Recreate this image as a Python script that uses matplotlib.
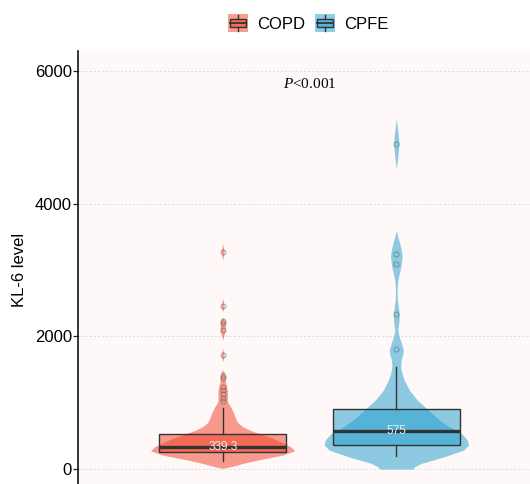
import numpy as np
import matplotlib
matplotlib.use('Agg')
import matplotlib.pyplot as plt
from matplotlib.legend_handler import HandlerBase
from matplotlib.patches import Rectangle
from matplotlib.lines import Line2D
from matplotlib.colors import to_rgba

# ---------------- data ----------------
groups = ['COPD', 'CPFE']
medians = [339.3, 575.0]
q1 = [256, 361]
q3 = [527, 899]
whislo = [120, 196]
whishi = [919, 1541]
copd_outliers = [3278, 2455, 2225, 2205, 2089, 1712, 1400, 1380, 1240, 1190, 1130, 1070, 1030]
cpfe_outliers = [4905, 3238, 3083, 2339, 1812]
median_labels = ['339.3', '575']

copd_violin_y = [10, 50, 86, 146, 211, 276, 336, 411, 470, 537, 587, 640, 700, 760, 843, 938,
                 994, 1040, 1089, 1190, 1295, 1340, 1390, 1465, 1491, 1616, 1712, 1818, 1943,
                 2089, 2218, 2285, 2369, 2455, 2575, 3148, 3278, 3399]
copd_violin_w = [0, 12, 20, 38, 60, 72, 68, 58, 49, 36, 27, 20, 15, 13, 11, 8,
                 5.5, 4.5, 4.7, 4.7, 3, 2.5, 2.5, 1.5, 0, 0, 1.5, 0, 0,
                 2.5, 2.5, 0, 0, 1.5, 0, 0, 1.5, 0]
cpfe_violin_y = [0, 40, 86, 186, 286, 361, 437, 537, 637, 738, 889, 1039, 1190, 1340, 1441,
                 1530, 1642, 1730, 1800, 1900, 1990, 2093, 2199, 2320, 2450, 2560, 2660, 2760,
                 2846, 2950, 3047, 3197, 3300, 3399, 3500, 3599, 4529, 4700, 4905, 5100, 5282]
cpfe_violin_w = [16, 19, 25, 48, 67, 72, 71, 65, 53, 43, 32, 21, 13, 8, 5.7,
                 4.5, 4.8, 6.5, 7, 5, 3, 1.5, 2.5, 3, 2, 1, 0.8, 1,
                 1.5, 3, 4.5, 5.8, 5, 3.5, 1.5, 0, 0, 1.5, 2.7, 1.5, 0]

yticks = [0, 2000, 4000, 6000]
p_text = '<0.001'

# ---------------- style ----------------
base_colors = ['#F33C23', '#1D9ECE']
fill_alpha = 0.5
positions = [0.775, 1.225]
box_width = 0.33
violin_half = 0.187
edge = '#333333'

plt.rcParams['font.family'] = ['Liberation Sans', 'DejaVu Sans']
plt.rcParams['mathtext.fontset'] = 'custom'
plt.rcParams['mathtext.it'] = 'Liberation Serif:italic'
plt.rcParams['mathtext.rm'] = 'Liberation Serif'

fig = plt.figure(figsize=(5.30, 4.84), dpi=100)
ax = fig.add_axes([78 / 530, 1 - 489 / 484, 463 / 530, 438 / 484])
ax.set_facecolor('#FFF8F8')

violins = [(copd_violin_y, copd_violin_w), (cpfe_violin_y, cpfe_violin_w)]
for pos, c, (vy, vw) in zip(positions, base_colors, violins):
    vy = np.asarray(vy, float)
    vw = np.asarray(vw, float)
    vw = vw / vw.max() * violin_half
    ax.fill_betweenx(vy, pos - vw, pos + vw, color=c, alpha=fill_alpha, lw=0, zorder=2)

outliers = [copd_outliers, cpfe_outliers]
stats = []
for i in range(2):
    stats.append({'med': medians[i], 'q1': q1[i], 'q3': q3[i],
                  'whislo': whislo[i], 'whishi': whishi[i], 'fliers': outliers[i]})
bp = ax.bxp(stats, positions=positions, widths=box_width, patch_artist=True,
            showcaps=False, manage_ticks=False,
            boxprops=dict(edgecolor=edge, linewidth=1.0),
            whiskerprops=dict(color=edge, linewidth=1.0),
            medianprops=dict(color=edge, linewidth=2.4),
            flierprops=dict(marker='o', markerfacecolor='none', markeredgecolor='#555555',
                            markersize=3.6, markeredgewidth=0.7, alpha=0.5))
for patch, c in zip(bp['boxes'], base_colors):
    patch.set_facecolor(to_rgba(c, fill_alpha))
for k in bp:
    for a in bp[k]:
        a.set_zorder(3)

for pos, m, lab in zip(positions, medians, median_labels):
    ax.text(pos, m, lab, ha='center', va='center', fontsize=8.5, color='#EDEDED', zorder=4)

ax.text(1.0, 5800, r'$P$' + p_text, ha='center', va='center', fontsize=11,
        family='Liberation Serif', color='black')

ax.set_xlim(0.4, 1.6)
ax.set_ylim(-300, 6300)
ax.set_yticks(yticks)
ax.set_yticklabels([str(t) for t in yticks])
ax.set_xticks([])
ax.tick_params(axis='y', length=3.3, width=0.9, pad=1.2, labelsize=12, colors='#222222',
               labelcolor='black')
ax.set_ylabel('KL-6 level', fontsize=12, color='black')
ax.yaxis.set_label_coords(-0.110, 0.5)
ax.yaxis.grid(True, linestyle=(0, (2, 2)), color='#DADADA', linewidth=0.7)
ax.set_axisbelow(True)
for s in ['top', 'right', 'bottom']:
    ax.spines[s].set_visible(False)
ax.spines['left'].set_linewidth(1.1)
ax.spines['left'].set_color('black')


class BoxKey:
    def __init__(self, color):
        self.color = color


class BoxKeyHandler(HandlerBase):
    def create_artists(self, legend, orig_handle, xdescent, ydescent, width, height,
                       fontsize, trans):
        c = orig_handle.color
        x0, y0 = -xdescent, -ydescent
        bg = Rectangle((x0, y0), width, height, facecolor=to_rgba(c, fill_alpha),
                       edgecolor='none', transform=trans)
        bx = Rectangle((x0 + 0.1 * width, y0 + 0.27 * height), 0.8 * width, 0.48 * height,
                       facecolor=to_rgba(c, fill_alpha), edgecolor=edge, lw=1.0,
                       transform=trans)
        xm = x0 + 0.5 * width
        med = Line2D([x0 + 0.1 * width, x0 + 0.9 * width], [y0 + 0.51 * height] * 2,
                     color=edge, lw=1.3, transform=trans)
        w1 = Line2D([xm, xm], [y0 + 0.05 * height, y0 + 0.27 * height], color=edge,
                    lw=1.0, transform=trans)
        w2 = Line2D([xm, xm], [y0 + 0.75 * height, y0 + 0.95 * height], color=edge,
                    lw=1.0, transform=trans)
        return [bg, bx, med, w1, w2]


handles = [BoxKey(c) for c in base_colors]
fig.legend(handles, groups, handler_map={BoxKey: BoxKeyHandler()}, loc='center',
           bbox_to_anchor=(308 / 530, 1 - 23 / 484), ncol=2, frameon=False, fontsize=12,
           handlelength=1.2, handleheight=1.2, handletextpad=0.55, columnspacing=0.6,
           borderpad=0, borderaxespad=0)

fig.savefig('out.png', dpi=100)
